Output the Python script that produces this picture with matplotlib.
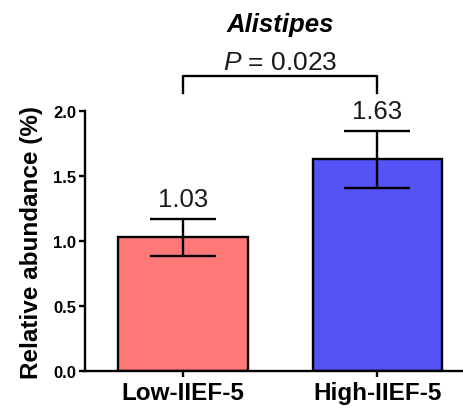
import numpy as np
import matplotlib
matplotlib.use('Agg')
import matplotlib.pyplot as plt

plt.rcParams['font.family'] = ['Liberation Sans', 'DejaVu Sans']
plt.rcParams['mathtext.fontset'] = 'custom'
plt.rcParams['mathtext.it'] = 'Liberation Sans:italic'
plt.rcParams['mathtext.rm'] = 'Liberation Sans'

groups = ['Low-IIEF-5', 'High-IIEF-5']
means = [1.03, 1.63]
errs = [0.142, 0.22]
colors = ['#FF7878', '#5454F6']
yticks = [0.0, 0.5, 1.0, 1.5, 2.0]
title = 'Alistipes'
pval = '0.023'

fig = plt.figure(figsize=(4.64, 4.10), dpi=100)
ax = fig.add_axes([0.1832, 0.0927, 0.8168, 0.634])

x = np.arange(len(groups))
ax.bar(x, means, width=0.668, color=colors, edgecolor='black', linewidth=1.7, zorder=2)
ax.errorbar(x, means, yerr=errs, fmt='none', ecolor='black', elinewidth=1.7,
            capsize=23.5, capthick=1.7, zorder=3)

for xi, m, e in zip(x, means, errs):
    ax.text(xi, m + e + 0.095, '%.2f' % m, ha='center', va='baseline', fontsize=18.5, color='#1a1a1a')

# significance bracket
ax.plot([0, 0, 1, 1], [2.14, 2.27, 2.27, 2.14], color='black', lw=1.7, clip_on=False)
ax.text(0.5, 2.32, r'$\it{P}$ = ' + pval, ha='center', va='baseline', fontsize=19, color='#1a1a1a')
ax.text(0.5, 2.615, title, ha='center', va='baseline', fontsize=18.5,
        fontweight='bold', fontstyle='italic')

ax.set_xlim(-0.504, 1.445)
ax.set_ylim(0, 2.0)
ax.set_yticks(yticks)
ax.set_yticklabels(['%.1f' % v for v in yticks], fontsize=12, fontweight='bold')
ax.set_xticks(x)
ax.set_xticklabels(groups, fontsize=17.5, fontweight='bold')
ax.set_ylabel('Relative abundance (%)', fontsize=17.5, fontweight='bold', labelpad=7)

for s in ['top', 'right']:
    ax.spines[s].set_visible(False)
for s in ['left', 'bottom']:
    ax.spines[s].set_linewidth(1.7)
ax.tick_params(axis='both', width=1.7, length=4.5, direction='out')
ax.tick_params(axis='y', pad=2)
ax.tick_params(axis='x', pad=3)

plt.savefig('out.png', dpi=100)
